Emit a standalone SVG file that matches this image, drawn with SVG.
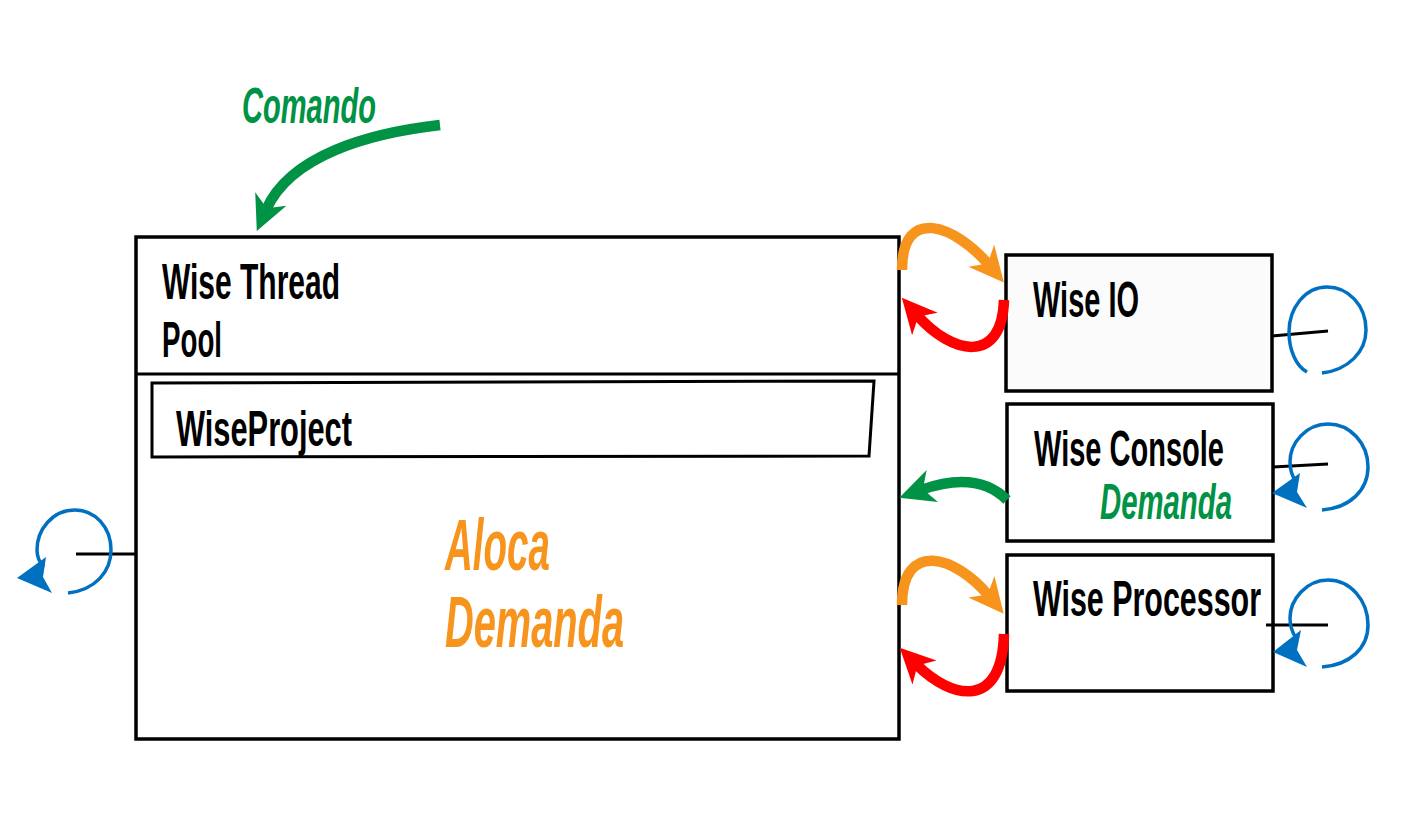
<svg xmlns="http://www.w3.org/2000/svg" width="1403" height="820" viewBox="0 0 1403 820">
<style>
.box{fill:#fff;stroke:#000;stroke-width:3.5}
.t{font-family:"Liberation Sans",Arial,sans-serif;font-weight:bold;fill:#000}
.it{font-family:"Liberation Sans",Arial,sans-serif;font-weight:bold;font-style:italic}
.thin{stroke:#000;stroke-width:3;fill:none}
.blue{stroke:#0070C0;stroke-width:3.5;fill:none}
.bh{fill:#0070C0}
.fat{fill:none;stroke-width:10.5}
</style>
<defs>
<marker id="ag" viewBox="-32 -20 40 40" refX="-17" refY="0" markerWidth="40" markerHeight="40" orient="auto" markerUnits="userSpaceOnUse"><path d="M6,0 L-29,-17 L-19,0 L-29,17 Z" fill="#009245"/></marker>
<marker id="ao" viewBox="-32 -20 40 40" refX="-17" refY="0" markerWidth="40" markerHeight="40" orient="auto" markerUnits="userSpaceOnUse"><path d="M6,0 L-29,-17 L-19,0 L-29,17 Z" fill="#F7941D"/></marker>
<marker id="ar" viewBox="-32 -20 40 40" refX="-17" refY="0" markerWidth="40" markerHeight="40" orient="auto" markerUnits="userSpaceOnUse"><path d="M6,0 L-29,-17 L-19,0 L-29,17 Z" fill="#FF0000"/></marker>
</defs>

<g id="threadpool">
<rect class="box" x="136" y="237" width="763" height="502"/>
<line class="thin" x1="136" y1="374" x2="899" y2="374" stroke-width="3.5"/>
<text class="t" x="162" y="299" font-size="50" textLength="178" lengthAdjust="spacingAndGlyphs">Wise Thread</text>
<text class="t" x="162" y="357" font-size="50" textLength="60" lengthAdjust="spacingAndGlyphs">Pool</text>
<text class="it" x="445" y="570" font-size="72" fill="#F7941D" textLength="105" lengthAdjust="spacingAndGlyphs">Aloca</text>
<text class="it" x="445" y="647" font-size="72" fill="#F7941D" textLength="179" lengthAdjust="spacingAndGlyphs">Demanda</text>
</g>

<g id="wiseproject">
<polygon points="152,383 874,381 869,456 152,457" fill="#fff" stroke="#000" stroke-width="3"/>
<text class="t" x="176" y="446" font-size="50" textLength="176" lengthAdjust="spacingAndGlyphs">WiseProject</text>
</g>

<g id="wiseio">
<rect x="1006" y="255" width="266" height="136" fill="#FBFBFB" stroke="#000" stroke-width="3.5"/>
<text class="t" x="1033" y="317" font-size="50" textLength="106" lengthAdjust="spacingAndGlyphs">Wise IO</text>
</g>

<g id="wiseconsole">
<rect class="box" x="1007" y="404" width="266" height="137"/>
<text class="t" x="1034" y="466" font-size="50" textLength="190" lengthAdjust="spacingAndGlyphs">Wise Console</text>
<text class="it" x="1100" y="519" font-size="50" fill="#009245" textLength="132" lengthAdjust="spacingAndGlyphs">Demanda</text>
</g>

<g id="wiseprocessor">
<rect class="box" x="1007" y="555" width="266" height="136"/>
<text class="t" x="1033" y="616" font-size="50" textLength="228" lengthAdjust="spacingAndGlyphs">Wise Processor</text>
</g>

<g id="comando">
<text class="it" x="242" y="123" font-size="50" fill="#009245" textLength="134" lengthAdjust="spacingAndGlyphs">Comando</text>
</g>

<g id="connectors">
<path class="fat" stroke="#009245" d="M440,125 C370,133 290,155 266,210" marker-end="url(#ag)"/>
<path class="fat" stroke="#F7941D" d="M902,270 C902,205 955,225 989,265" marker-end="url(#ao)"/>
<path class="fat" stroke="#FF0000" d="M1004,300 C1002,365 952,355 917,315" marker-end="url(#ar)"/>
<path class="fat" stroke="#009245" d="M1007,500 C985,478 955,478 921,490" marker-end="url(#ag)"/>
<path class="fat" stroke="#F7941D" d="M902,605 C902,540 955,555 989,596" marker-end="url(#ao)"/>
<path class="fat" stroke="#FF0000" d="M1004,634 C1002,710 952,700 916,664" marker-end="url(#ar)"/>

<line class="thin" x1="1272" y1="336" x2="1328" y2="331"/>
<path class="blue" d="M1322,373 C1348,370 1366,352 1366,330 C1366,305 1348,287 1327,287 C1305,287 1289,308 1289,332 C1289,350 1296,366 1307,372"/>

<line class="thin" x1="1273" y1="467" x2="1328" y2="464"/>
<path class="blue" d="M1322,510 C1350,508 1368,490 1368,467 C1368,443 1350,424 1328,424 C1306,424 1290,443 1290,462 C1290,470 1292,476 1296,482"/>
<polygon class="bh" points="1272,493 1300,473 1297,492 1307,508"/>

<line class="thin" x1="1266" y1="625" x2="1328" y2="625"/>
<path class="blue" d="M1322,667 C1350,665 1368,648 1368,625 C1368,600 1350,580 1328,580 C1306,580 1290,600 1290,618 C1290,626 1292,632 1296,638"/>
<polygon class="bh" points="1273,652 1301,630 1297,650 1307,667"/>

<line class="thin" x1="76" y1="554" x2="136" y2="554"/>
<path class="blue" d="M68,593 C95,590 111,572 111,550 C111,527 95,510 75,510 C52,510 37,530 37,550 C37,557 39,562 44,567"/>
<polygon class="bh" points="17,578 46,557 43,577 52,593"/>
</g>
</svg>
